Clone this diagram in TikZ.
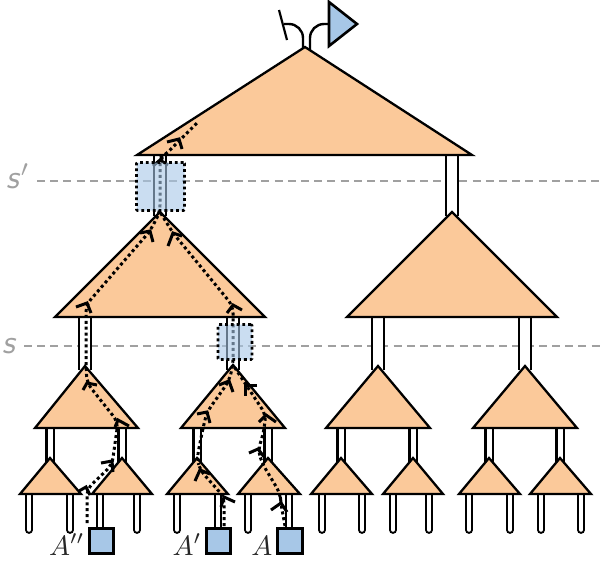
\documentclass[tikz,border=0pt]{standalone}
\definecolor{tri}{HTML}{FBC99A}
\definecolor{sq}{HTML}{A7C7E7}
\definecolor{guide}{HTML}{A0A0A0}
\tikzset{
  tribox/.style={draw=black,fill=tri,line width=2.3pt,line join=miter},
  wirea/.style={draw=black,double=white,line width=2.2pt,double distance=9.5pt},
  wireb/.style={draw=black,double=white,line width=2.2pt,double distance=5pt},
  legw/.style={draw=black,double=white,line width=2.1pt,double distance=3.5pt,line cap=round},
  guideline/.style={draw=guide,line width=1.8pt,dash pattern=on 8pt off 5.2pt},
  dotline/.style={draw=black,line width=3pt,dash pattern=on 3pt off 2.9pt,rounded corners=7pt},
  chevron/.style={draw=black,line width=3pt,line cap=butt,line join=miter},
  squarebox/.style={draw=black,fill=sq,line width=3.2pt},
  overlaybox/.style={draw=black,fill=sq,fill opacity=.6,draw opacity=1,line width=2.8pt,dash pattern=on 2.8pt off 3pt,rounded corners=1pt},
  mathlabel/.style={scale=2.8,inner sep=0pt,text=black!85,anchor=base east},
  cutlabel/.style={scale=3.3,inner sep=0pt,text=guide,anchor=base}
}
\newcommand{\chev}[3]{\draw[chevron] (#1) -- (#2) -- (#3);}
\newcommand{\tree}[5]{\draw[tribox] (#1,#2) -- (#3,#5) -- (#4,#5) -- cycle;}
\begin{document}
\begin{tikzpicture}[x=1pt,y=-1pt]
\useasboundingbox (0,0) rectangle (602,563);
% cut lines
\coordinate (c1a) at (37,181); \coordinate (c1b) at (602,181);
\coordinate (c2a) at (24,346); \coordinate (c2b) at (602,346);
\draw[guideline] (c1a) -- (c1b);
\draw[guideline] (c2a) -- (c2b);
\node[cutlabel] (sp) at (18,188) {\textsf{\textit{s}}$'$};
\node[cutlabel] (ss) at (10,353) {\textsf{\textit{s}}};
% legs
\foreach \x/\e in {29/530,70/530,100/528,137/530,177/530,218/528,248/530,289/528,322/530,362/530,393/530,429/530,469/530,510/530,541/530,581/530}
  \draw[legw] (\x,492) -- (\x,\e);
% wires between levels
\foreach \x in {50,122,197,268,341,413,489,560}
  \draw[wireb] (\x,426) -- (\x,462);
\foreach \x in {85,233,378,525}
  \draw[wirea] (\x,315) -- (\x,370);
\foreach \x in {160,452}
  \draw[wirea] (\x,153) -- (\x,216);
% top wires and legs
\draw[line width=2.4pt] (303,50) -- (303,38) arc[start angle=0,end angle=-90,radius=14] -- (284,24);
\draw[line width=2.4pt] (310,50) -- (310,38) arc[start angle=180,end angle=270,radius=14] -- (330,24);
\draw[line width=2.2pt] (279,10) -- (287,40);
\draw[squarebox,line width=2.6pt] (329,2) -- (357,24) -- (329,46) -- cycle;
% triangles
\tree{305}{47}{137}{472}{155}
\tree{160}{212}{55}{265}{317}
\tree{452}{212}{347}{557}{317}
\tree{85}{366}{35}{138}{428}
\tree{233}{365}{181}{285}{428}
\tree{378}{366}{326}{430}{428}
\tree{525}{366}{473}{577}{428}
\foreach \a/\l/\r in {50/20/81,122/92/152,197/167/228,268/238/300,341/311/372,413/383/443,489/459/520,560/530/591}
  \tree{\a}{458}{\l}{\r}{494}
% squares
\node[squarebox,minimum size=24.5pt,inner sep=0pt] (a2) at (101.5,541) {};
\node[squarebox,minimum size=24.5pt,inner sep=0pt] (a1) at (218.5,541) {};
\node[squarebox,minimum size=24.5pt,inner sep=0pt] (a0) at (290,541) {};
\node[mathlabel] (la2) at (85,555) {$A''$};
\node[mathlabel] (la1) at (202,555) {$A'$};
\node[mathlabel] (la0) at (273,555) {$A$};
% dotted paths
\draw[dotline] (87,523) -- (87,489) -- (112,465) -- (118,422) -- (87,383) -- (86,366) -- (86,305) -- (150,231) -- (160,212) -- (160,158) -- (165,155) -- (198,122);
\draw[dotline] (224,526) -- (224,497) -- (200,470) -- (197,458) -- (203,428) -- (207,412) -- (229,381) -- (233,365) -- (233,306) -- (173,233) -- (160,212);
\draw[dotline] (285,526) -- (281,504) -- (280,493) -- (262,463) -- (258,450) -- (263,435) -- (266,415) -- (233,365);
% arrowheads
\chev{79,491}{86,487}{90,495}
\chev{101,463}{112,461}{113,472}
\chev{115,427}{118,420}{129,426}
\chev{97,385}{87,383}{83,390}
\chev{76,307}{87,303}{91,313}
\chev{140,233}{150,231}{153,242}
\chev{153,166}{160,160}{168,165}
\chev{167,142}{179,139}{182,149}
\chev{235,502}{224,497}{221,507}
\chev{210,474}{200,470}{195,481}
\chev{197,414}{207,412}{210,423}
\chev{219,385}{229,381}{233,392}
\chev{227,313}{233,305}{242,310}
\chev{182,236}{173,233}{168,246}
\chev{271,510}{281,503}{287,512}
\chev{249,453}{258,449}{265,458}
\chev{259,422}{266,415}{276,422}
\chev{257,385}{245,385}{245,396}
% boxes
\node[overlaybox,minimum width=48pt,minimum height=48pt,inner sep=0pt] (b1) at (160.5,186.5) {};
\node[overlaybox,minimum width=34pt,minimum height=35pt,inner sep=0pt] (b2) at (235,342) {};
\end{tikzpicture}
\end{document}
